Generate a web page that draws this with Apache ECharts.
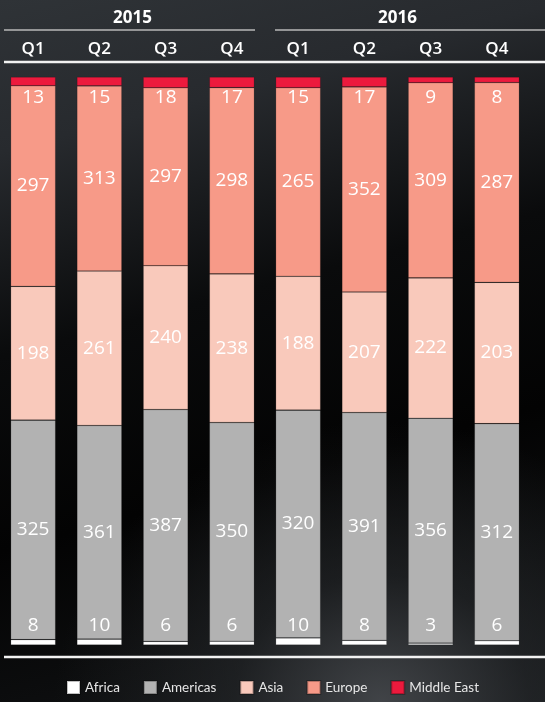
<!DOCTYPE html>
<html>
<head>
<meta charset="utf-8">
<script src="https://cdn.jsdelivr.net/npm/echarts@6/dist/echarts.min.js"></script>
<style>
html,body{margin:0;padding:0;}
body{
  width:545px;height:702px;overflow:hidden;
  background:
    radial-gradient(ellipse 60% 40% at 70% 100%, rgba(70,73,77,0.9) 0%, rgba(45,48,51,0.5) 45%, rgba(0,0,0,0) 100%),
    linear-gradient(165deg, #2f3337 0%, #272a2e 18%, #0a0b0c 42%, #030303 65%, #141618 100%);
}
#c1{width:545px;height:702px;}
</style>
</head>
<body>
<div id="c1"></div>
<script>
// quarters and years
const quarters = ['Q1','Q2','Q3','Q4','Q1','Q2','Q3','Q4']
const years = ['2015','2016']
// regional values per quarter
const africa     = [8, 10, 6, 6, 10, 8, 3, 6]
const americas   = [325, 361, 387, 350, 320, 391, 356, 312]
const asia       = [198, 261, 240, 238, 188, 207, 222, 203]
const europe     = [297, 313, 297, 298, 265, 352, 309, 287]
const middleEast = [13, 15, 18, 17, 15, 17, 9, 8]

const regions = [
  {name:'Africa', vals:africa, color:'#ffffff'},
  {name:'Americas', vals:americas, color:'#b2b2b2'},
  {name:'Asia', vals:asia, color:'#f9c9bb'},
  {name:'Europe', vals:europe, color:'#f79a88'},
  {name:'Middle East', vals:middleEast, color:'#ec1a3d'}
]

let totals = quarters.map((q,i)=>regions.reduce((s,r)=>s+r.vals[i],0))

let series = regions.map(function(r){
  let label = {
    show:true,
    color:'#fff',
    fontSize:19,
    fontFamily:'Open Sans',
    formatter:function(p){ return r.vals[p.dataIndex] }
  }
  if(r.name==='Africa'){
    label.position = ['50%','100%']
    label.align = 'center'
    label.verticalAlign = 'middle'
    label.offset = [0,-19]
  }else if(r.name==='Middle East'){
    label.position = ['50%',0]
    label.align = 'center'
    label.verticalAlign = 'middle'
    label.offset = [0,21]
  }else{
    label.position = 'inside'
  }
  return {
    name:r.name,
    type:'bar',
    stack:'all',
    barWidth:45,
    itemStyle:{color:r.color, borderColor:'rgba(0,0,0,0.25)', borderWidth:0.6},
    label:label,
    emphasis:{disabled:true},
    data:r.vals.map((v,i)=>v/totals[i]*100)
  }
})

let chart = echarts.init(document.getElementById('c1'))
let option = {
  backgroundColor:'rgba(0,0,0,0)',
  animation:false,
  legend:{
    left:61,
    top:675,
    icon:'rect',
    itemWidth:13,
    itemHeight:13,
    itemGap:23,
    textStyle:{color:'#e6e6e6', fontSize:13.5, fontFamily:'Lato'},
    data:regions.map(r=>r.name)
  },
  grid:{left:0, right:15, top:77, bottom:57, outerBoundsMode:'none', containLabel:false},
  xAxis:[{
    type:'category',
    position:'top',
    data:quarters,
    axisLine:{show:false},
    axisTick:{show:false},
    axisLabel:{color:'#fff', fontSize:17, fontWeight:600, fontFamily:'Open Sans', margin:19}
  },{
    type:'category',
    position:'top',
    data:years,
    offset:40,
    axisLine:{show:false},
    axisTick:{show:false},
    axisLabel:{color:'#fff', fontSize:17, fontWeight:'bold', fontFamily:'Open Sans', margin:10}
  }],
  yAxis:{type:'value', min:0, max:100, show:false},
  graphic:[
    {type:'line', shape:{x1:4,y1:30,x2:255,y2:30}, style:{stroke:'#b8b8b8', lineWidth:1.5}},
    {type:'line', shape:{x1:275,y1:30,x2:545,y2:30}, style:{stroke:'#b8b8b8', lineWidth:1.5}},
    {type:'line', shape:{x1:4,y1:62,x2:545,y2:62}, style:{stroke:'#f2f2f2', lineWidth:2.5}},
    {type:'line', shape:{x1:4,y1:657,x2:545,y2:657}, style:{stroke:'#f2f2f2', lineWidth:2.5}}
  ],
  series:series
}
chart.setOption(option)
</script>
</body>
</html>
